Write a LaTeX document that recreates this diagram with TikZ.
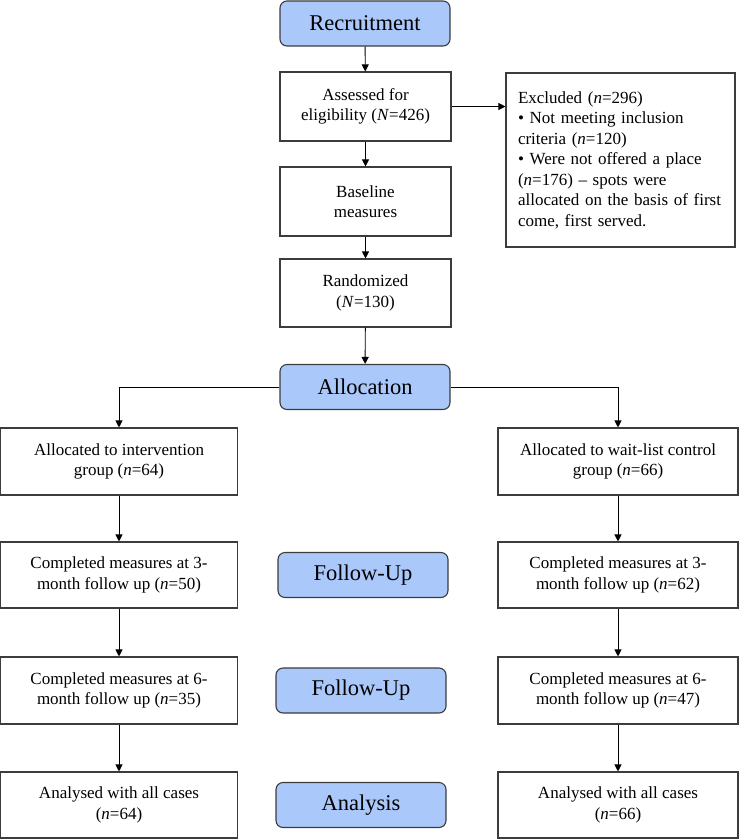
\documentclass[tikz,border=0pt]{standalone}
\usepackage{fontspec}
\setmainfont{Liberation Serif}
\usetikzlibrary{arrows.meta}
\definecolor{phase}{RGB}{170,200,250}
\definecolor{edge}{RGB}{60,60,60}
\tikzset{
  box/.style={draw=edge, line width=1.1pt, fill=white, align=center, inner sep=2pt,
    font=\fontsize{17}{20.5}\selectfont},
  phasebox/.style={draw=edge, line width=1.1pt, fill=phase, rounded corners=7pt,
    minimum width=170pt, minimum height=45pt, font=\fontsize{22.5}{26}\selectfont},
  conn/.style={line width=0.9pt, -{Triangle[length=7pt,width=7pt]}},
}
\begin{document}
\begin{tikzpicture}[x=1pt,y=-1pt]
\useasboundingbox (0,0) rectangle (740,839);
% phase boxes
\node[phasebox] (rec) at (365,23.5) {Recruitment};
\node[phasebox] (alloc) at (365,387) {Allocation};
\node[phasebox] (fu1) at (363,575) {Follow-Up};
\node[phasebox] (fu2) at (361,690.5) {Follow-Up};
\node[phasebox] (ana) at (361,805) {Analysis};
% central chain
\node[box, minimum width=171pt, minimum height=69pt] (ass) at (365.5,106.5) {Assessed for\\eligibility (\textit{N}=426)};
\node[box, minimum width=171pt, minimum height=69pt] (base) at (365.5,201.5) {Baseline\\measures};
\node[box, minimum width=171pt, minimum height=68pt] (rand) at (365.5,293) {Randomized\\(\textit{N}=130)};
\node[box, minimum width=229pt, minimum height=174pt, align=left, text width=205pt, inner sep=0pt] (exc) at (620.5,160)
  {Excluded (\textit{n}=296)\\
   • Not meeting inclusion\\
   criteria (\textit{n}=120)\\
   • Were not offered a place\\
   (\textit{n}=176) – spots were\\
   allocated on the basis of first\\
   come, first served.};
% left column
\node[box, minimum width=237pt, minimum height=67pt] (l1) at (119,461.5) {Allocated to intervention\\group (\textit{n}=64)};
\node[box, minimum width=237pt, minimum height=66pt] (l2) at (119,575) {Completed measures at 3-\\month follow up (\textit{n}=50)};
\node[box, minimum width=237pt, minimum height=67pt] (l3) at (119,690.5) {Completed measures at 6-\\month follow up (\textit{n}=35)};
\node[box, minimum width=237pt, minimum height=66pt] (l4) at (119,805) {Analysed with all cases\\(\textit{n}=64)};
% right column
\node[box, minimum width=240pt, minimum height=67pt] (r1) at (618,461.5) {Allocated to wait-list control\\group (\textit{n}=66)};
\node[box, minimum width=240pt, minimum height=66pt] (r2) at (618,575) {Completed measures at 3-\\month follow up (\textit{n}=62)};
\node[box, minimum width=240pt, minimum height=67pt] (r3) at (618,690.5) {Completed measures at 6-\\month follow up (\textit{n}=47)};
\node[box, minimum width=240pt, minimum height=66pt] (r4) at (618,805) {Analysed with all cases\\(\textit{n}=66)};
% connectors
\draw[conn] (rec) -- (ass);
\draw[conn] (ass) -- (base);
\draw[conn] (base) -- (rand);
\draw[conn] (rand) -- (alloc);
\draw[conn] (ass.east) -- (exc.west |- ass.east);
\draw[conn] (alloc.west) -| (l1.north);
\draw[conn] (alloc.east) -| (r1.north);
\draw[conn] (l1) -- (l2);
\draw[conn] (l2) -- (l3);
\draw[conn] (l3) -- (l4);
\draw[conn] (r1) -- (r2);
\draw[conn] (r2) -- (r3);
\draw[conn] (r3) -- (r4);
\end{tikzpicture}
\end{document}
